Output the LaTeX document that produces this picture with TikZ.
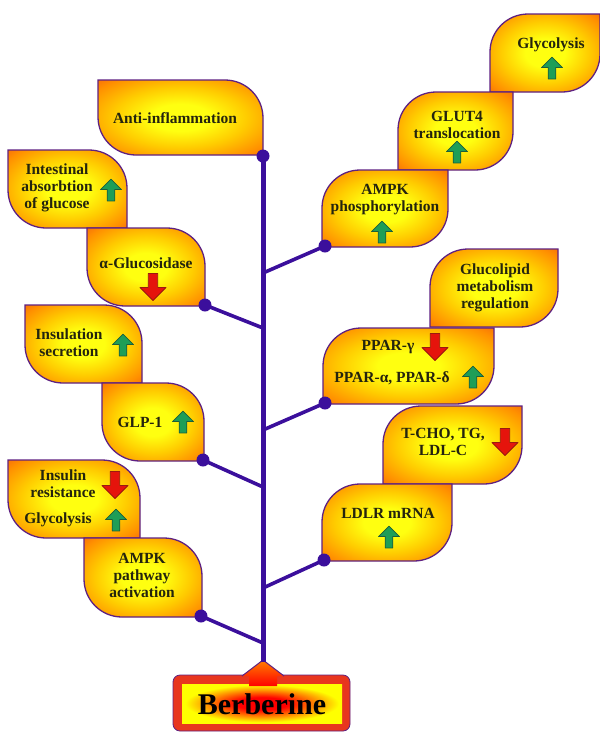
\documentclass[tikz,border=0pt]{standalone}
\usepackage{fontspec}
\setmainfont{Liberation Serif}
\definecolor{ink}{HTML}{24240E}
\definecolor{stemc}{HTML}{3B0F9C}
\definecolor{rim}{HTML}{5E2182}
\definecolor{glowin}{HTML}{FFFF10}
\definecolor{glowmid}{HTML}{FFCC00}
\definecolor{glowout}{HTML}{FF9000}
\definecolor{glowedge}{HTML}{EE4A14}
\definecolor{upgreen}{HTML}{1E9E57}
\definecolor{upedge}{HTML}{1C5E3A}
\definecolor{downred}{HTML}{E5140C}
\definecolor{downedge}{HTML}{9A1A10}
\definecolor{framered}{HTML}{E8361E}
\newcommand{\leaffont}{\fontsize{15.5}{17}\selectfont}
\newcommand{\rootfont}{\fontsize{30}{32}\selectfont}
\newcommand{\leafr}{38}
\pgfdeclareradialshading{leafglow}{\pgfpoint{0bp}{0bp}}{color(0bp)=(glowin); color(9bp)=(glowin); color(20bp)=(glowmid); color(31bp)=(glowout); color(42bp)=(glowedge); color(50bp)=(glowedge)}
\pgfdeclareradialshading{rootglow}{\pgfpoint{0bp}{0bp}}{color(0bp)=(red); color(8bp)=(red); color(24bp)=(yellow); color(50bp)=(yellow)}
% leaf with rounded top-right and bottom-left corners: left, top, right, bottom
\newcommand{\leafL}[4]{%
  \path[leaf] (#1,#2) -- ({#3-\leafr},#2) arc[start angle=-90, end angle=0, radius=\leafr]
    -- (#3,#4) -- ({#1+\leafr},#4) arc[start angle=90, end angle=180, radius=\leafr] -- cycle;
}
% leaf with rounded top-left and bottom-right corners
\newcommand{\leafR}[4]{%
  \path[leaf] (#1,#4) -- (#1,{#2+\leafr}) arc[start angle=180, end angle=270, radius=\leafr]
    -- (#3,#2) -- (#3,{#4-\leafr}) arc[start angle=0, end angle=90, radius=\leafr] -- cycle;
}
% block arrows: centre x, centre y, width
\newcommand{\upmark}[3]{%
  \path[fill=upgreen, draw=upedge, line width=0.8pt, line join=round]
    (#1,{#2-0.52*#3}) -- ({#1+0.5*#3},{#2-0.02*#3}) -- ({#1+0.18*#3},{#2-0.02*#3})
    -- ({#1+0.18*#3},{#2+0.52*#3}) -- ({#1-0.18*#3},{#2+0.52*#3})
    -- ({#1-0.18*#3},{#2-0.02*#3}) -- ({#1-0.5*#3},{#2-0.02*#3}) -- cycle;
}
\newcommand{\downmark}[3]{%
  \path[fill=downred, draw=downedge, line width=0.8pt, line join=round]
    (#1,{#2+0.52*#3}) -- ({#1+0.5*#3},{#2+0.02*#3}) -- ({#1+0.18*#3},{#2+0.02*#3})
    -- ({#1+0.18*#3},{#2-0.52*#3}) -- ({#1-0.18*#3},{#2-0.52*#3})
    -- ({#1-0.18*#3},{#2+0.02*#3}) -- ({#1-0.5*#3},{#2+0.02*#3}) -- cycle;
}

\begin{document}
\begin{tikzpicture}[x=1pt,y=-1pt,
  leaf/.style={shade, shading=leafglow, draw=rim, line width=1.3pt},
  leaftext/.style={font=\bfseries\leaffont, text=ink, align=center, inner sep=0pt},
  trunk/.style={draw=stemc, line width=5pt},
  twig/.style={draw=stemc, line width=3.6pt}]
  \useasboundingbox (0,0) rectangle (600,732);

  % Left leaves, top to bottom.
  \leafL{98}{80}{263}{155}
  \leafL{8}{150}{127}{228}
  \leafL{87}{228}{205}{306}
  \leafL{25}{305}{142}{383}
  \leafL{102}{383}{204}{461}
  \leafL{8}{460}{140}{538}
  \leafL{84}{538}{202}{617}

  % Right leaves, top to bottom.
  \leafR{490}{14}{600}{92}
  \leafR{398}{92}{513}{170}
  \leafR{322}{170}{448}{247}
  \leafR{430}{249}{558}{327}
  \leafR{323}{328}{494}{404}
  \leafR{383}{406}{522}{484}
  \leafR{322}{484}{452}{561}

  % Labels and arrows.
  \node[leaftext] (anti) at (175,118) {Anti-inflammation};
  \node[leaftext] (intest) at (57,188) {Intestinal\\absorbtion\\of glucose};
  \upmark{111}{190}{21}
  \node[leaftext] (gluc) at (146,263) {α-Glucosidase};
  \downmark{153}{287}{26}
  \node[leaftext] (insec) at (69,343) {Insulation\\secretion};
  \upmark{123}{345}{21}
  \node[leaftext] (glp) at (140,422) {GLP-1};
  \upmark{183}{422}{21}
  \node[leaftext] (inres) at (63,484) {Insulin\\resistance};
  \downmark{115}{485}{26}
  \node[leaftext] (glyL) at (58,520) {Glycolysis};
  \upmark{116}{520}{21}
  \node[leaftext] (ampkA) at (142,575) {AMPK\\pathway\\activation};

  \node[leaftext] (glyR) at (551,45) {Glycolysis};
  \upmark{552}{68}{21}
  \node[leaftext] (glut) at (457,125) {GLUT4\\translocation};
  \upmark{457}{152}{21}
  \node[leaftext] (ampkP) at (385,200) {AMPK\\phosphorylation};
  \upmark{382}{232}{21}
  \node[leaftext] (glucolip) at (495,288) {Glucolipid\\metabolism\\regulation};
  \node[leaftext] (pparg) at (388,347) {PPAR-γ};
  \downmark{435}{347}{26}
  \node[leaftext] (pparad) at (392,378) {PPAR-α, PPAR-δ};
  \upmark{473}{377}{21}
  \node[leaftext] (tcho) at (443,442) {T-CHO, TG,\\LDL-C};
  \downmark{505}{442}{26}
  \node[leaftext] (ldlr) at (388,513) {LDLR mRNA};
  \upmark{389}{537}{21}

  % Berberine root.
  \draw[fill=framered, draw=rim, line width=0.8pt, rounded corners=7] (173,675) rectangle (350,731);
  \path[shade, shading=rootglow] (182,684) rectangle (342,723);
  \path[top color=orange, bottom color=red] (249,686) -- (249,676) -- (242,676) -- (263,660)
    -- (284,676) -- (277,676) -- (277,686) -- cycle;
  \draw[rim, line width=1pt] (242,676) -- (263,660) -- (284,676);
  \node[font=\bfseries\rootfont, text=black, inner sep=0pt] (berb) at (262,704) {Berberine};

  % Stem and twigs.
  \coordinate (dAnti) at (263,156);
  \coordinate (dAmpkP) at (325,246);  \coordinate (jAmpkP) at (263,273);
  \coordinate (dGluc) at (205,305);   \coordinate (jGluc) at (263,328);
  \coordinate (dPpar) at (325,403);   \coordinate (jPpar) at (263,430);
  \coordinate (dGlp) at (203,460);    \coordinate (jGlp) at (263,487);
  \coordinate (dLdlr) at (324,560);   \coordinate (jLdlr) at (263,588);
  \coordinate (dAmpkA) at (201,616);  \coordinate (jAmpkA) at (263,643);
  \coordinate (jRoot) at (263,662);
  \draw[trunk] (dAnti) -- (jRoot);
  \foreach \d/\j in {dAmpkP/jAmpkP, dGluc/jGluc, dPpar/jPpar, dGlp/jGlp, dLdlr/jLdlr, dAmpkA/jAmpkA}
    \draw[twig] (\d) -- (\j);
  \foreach \d in {dAnti, dAmpkP, dGluc, dPpar, dGlp, dLdlr, dAmpkA}
    \fill[stemc] (\d) circle (6.5);
\end{tikzpicture}
\end{document}
